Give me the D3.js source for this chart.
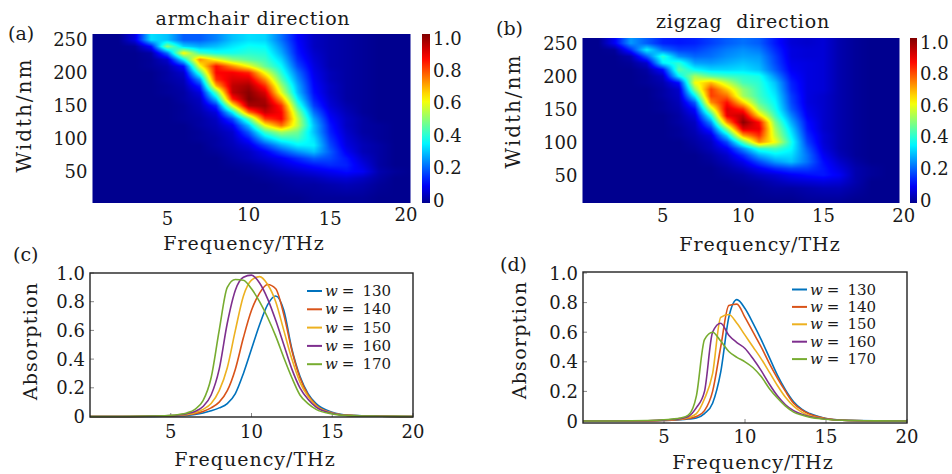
<!DOCTYPE html>
<html>
<head>
<meta charset="utf-8">
<script src="https://cdn.jsdelivr.net/npm/d3@7"></script>
<style>
body { margin: 0; background: #fff; }
text { font-family: "DejaVu Serif", serif; fill: #1a1a1a; }
</style>
</head>
<body>
<div id="chart"></div>
<script>
// heatmap grids: one row per width (nm), one column per frequency (THz)
var freqCols = [0,1,2,3,4,5,6,7,8,9,10,11,12,13,14,15,16,17,18,19,20];
var widthRows = [250,240,230,220,210,200,190,180,170,160,150,140,130,120,110,100,90,80,70,60,50,40,30,10];

var armchairMap = [
  [0,0,0,0.08,0.33,0.3,0.2,0.2,0.24,0.3,0.33,0.32,0.22,0.11,0.05,0.03,0.02,0.01,0,0,0],
  [0,0,0,0.01,0.12,0.5,0.32,0.28,0.3,0.34,0.37,0.36,0.25,0.12,0.05,0.03,0.02,0.01,0,0,0],
  [0,0,0,0,0.02,0.22,0.62,0.42,0.38,0.38,0.4,0.39,0.28,0.13,0.06,0.03,0.02,0.01,0,0,0],
  [0,0,0,0,0.01,0.06,0.35,0.72,0.6,0.5,0.45,0.42,0.32,0.15,0.07,0.03,0.02,0.01,0,0,0],
  [0,0,0,0,0.01,0.03,0.12,0.6,0.85,0.72,0.6,0.46,0.36,0.18,0.08,0.03,0.02,0.01,0,0,0],
  [0,0,0,0,0,0.02,0.06,0.42,0.86,0.87,0.83,0.6,0.4,0.22,0.09,0.04,0.02,0.01,0,0,0],
  [0,0,0,0,0,0.02,0.04,0.25,0.82,0.9,0.9,0.72,0.45,0.25,0.1,0.04,0.02,0.01,0,0,0],
  [0,0,0,0,0,0.01,0.03,0.14,0.68,0.93,0.96,0.82,0.52,0.28,0.11,0.05,0.02,0.01,0,0,0],
  [0,0,0,0,0,0.01,0.02,0.08,0.45,0.93,0.99,0.9,0.58,0.3,0.12,0.05,0.02,0.01,0,0,0],
  [0,0,0,0,0,0,0.02,0.05,0.3,0.83,1.0,0.95,0.7,0.35,0.14,0.06,0.02,0.01,0,0,0],
  [0,0,0,0,0,0,0.01,0.04,0.15,0.6,0.95,0.97,0.82,0.42,0.17,0.07,0.03,0.01,0,0,0],
  [0,0,0,0,0,0,0.01,0.03,0.08,0.35,0.75,0.92,0.86,0.5,0.22,0.09,0.04,0.01,0,0,0],
  [0,0,0,0,0,0,0.01,0.02,0.05,0.18,0.45,0.8,0.86,0.55,0.27,0.11,0.05,0.02,0,0,0],
  [0,0,0,0,0,0,0,0.02,0.04,0.1,0.3,0.6,0.75,0.55,0.3,0.13,0.05,0.02,0.01,0,0],
  [0,0,0,0,0,0,0,0.01,0.03,0.06,0.2,0.42,0.52,0.47,0.3,0.14,0.06,0.02,0.01,0,0],
  [0,0,0,0,0,0,0,0.01,0.02,0.05,0.13,0.3,0.4,0.42,0.33,0.16,0.07,0.03,0.01,0,0],
  [0,0,0,0,0,0,0,0,0.02,0.04,0.08,0.18,0.28,0.35,0.35,0.18,0.08,0.04,0.02,0,0],
  [0,0,0,0,0,0,0,0,0.01,0.03,0.05,0.1,0.18,0.25,0.3,0.2,0.1,0.04,0.02,0,0],
  [0,0,0,0,0,0,0,0,0,0.02,0.04,0.07,0.1,0.15,0.2,0.18,0.13,0.06,0.02,0,0],
  [0,0,0,0,0,0,0,0,0,0.01,0.02,0.04,0.07,0.1,0.13,0.15,0.14,0.08,0.02,0,0],
  [0,0,0,0,0,0,0,0,0,0,0.01,0.02,0.04,0.06,0.08,0.1,0.12,0.1,0.03,0.01,0],
  [0,0,0,0,0,0,0,0,0,0,0,0.01,0.02,0.03,0.04,0.06,0.07,0.05,0.02,0,0],
  [0,0,0,0,0,0,0,0,0,0,0,0,0.01,0.02,0.02,0.03,0.04,0.03,0.01,0,0],
  [0,0,0,0,0,0,0,0,0,0,0,0,0,0,0.01,0.01,0.01,0.01,0,0,0]
];

var zigzagMap = [
  [0,0,0.1,0.26,0.2,0.14,0.13,0.14,0.17,0.2,0.22,0.2,0.13,0.07,0.06,0.07,0.03,0.01,0,0,0],
  [0,0,0.01,0.15,0.35,0.22,0.17,0.17,0.2,0.23,0.25,0.23,0.15,0.08,0.07,0.07,0.03,0.01,0,0,0],
  [0,0,0,0.03,0.2,0.4,0.25,0.21,0.22,0.25,0.27,0.26,0.17,0.08,0.07,0.07,0.03,0.01,0,0,0],
  [0,0,0,0.01,0.06,0.35,0.4,0.27,0.26,0.28,0.3,0.28,0.18,0.09,0.08,0.07,0.03,0.01,0,0,0],
  [0,0,0,0,0.02,0.12,0.45,0.36,0.32,0.32,0.33,0.3,0.2,0.1,0.08,0.07,0.03,0.01,0,0,0],
  [0,0,0,0,0.01,0.05,0.35,0.52,0.45,0.42,0.4,0.38,0.25,0.12,0.08,0.07,0.03,0.01,0,0,0],
  [0,0,0,0,0.01,0.03,0.12,0.6,0.68,0.55,0.43,0.4,0.3,0.14,0.08,0.07,0.03,0.01,0,0,0],
  [0,0,0,0,0,0.02,0.06,0.5,0.8,0.66,0.5,0.41,0.32,0.15,0.08,0.07,0.03,0.01,0,0,0],
  [0,0,0,0,0,0.02,0.05,0.35,0.8,0.75,0.52,0.42,0.34,0.17,0.08,0.06,0.03,0.01,0,0,0],
  [0,0,0,0,0,0.01,0.04,0.2,0.72,0.85,0.65,0.45,0.36,0.18,0.08,0.06,0.03,0.01,0,0,0],
  [0,0,0,0,0,0.01,0.03,0.12,0.55,0.9,0.82,0.52,0.38,0.2,0.09,0.06,0.03,0.01,0,0,0],
  [0,0,0,0,0,0,0.02,0.08,0.38,0.88,0.93,0.65,0.42,0.24,0.1,0.06,0.03,0.01,0,0,0],
  [0,0,0,0,0,0,0.02,0.05,0.25,0.72,0.99,0.85,0.48,0.28,0.12,0.06,0.03,0.01,0,0,0],
  [0,0,0,0,0,0,0.01,0.04,0.15,0.5,0.9,0.88,0.52,0.32,0.13,0.06,0.03,0.01,0,0,0],
  [0,0,0,0,0,0,0.01,0.03,0.08,0.32,0.7,0.82,0.55,0.35,0.15,0.07,0.03,0.01,0,0,0],
  [0,0,0,0,0,0,0,0.02,0.05,0.18,0.45,0.72,0.6,0.38,0.17,0.07,0.03,0.01,0,0,0],
  [0,0,0,0,0,0,0,0.01,0.04,0.1,0.25,0.4,0.42,0.36,0.2,0.08,0.03,0.01,0,0,0],
  [0,0,0,0,0,0,0,0,0.02,0.06,0.15,0.28,0.34,0.33,0.22,0.1,0.04,0.01,0,0,0],
  [0,0,0,0,0,0,0,0,0.01,0.04,0.09,0.18,0.26,0.3,0.22,0.12,0.06,0.02,0,0,0],
  [0,0,0,0,0,0,0,0,0,0.02,0.05,0.1,0.15,0.18,0.17,0.13,0.08,0.03,0.01,0,0],
  [0,0,0,0,0,0,0,0,0,0.01,0.02,0.05,0.07,0.1,0.12,0.13,0.1,0.03,0.01,0,0],
  [0,0,0,0,0,0,0,0,0,0,0.01,0.02,0.04,0.06,0.07,0.08,0.07,0.03,0,0,0],
  [0,0,0,0,0,0,0,0,0,0,0,0.01,0.02,0.02,0.03,0.04,0.04,0.02,0,0,0],
  [0,0,0,0,0,0,0,0,0,0,0,0,0,0,0.01,0.01,0.01,0,0,0,0]
];

// absorption spectra for the line panels
var lineFreq = [0,2,4,5,5.5,6,6.5,7,7.5,8,8.5,9,9.5,10,10.5,11,11.5,12,12.5,13,13.5,14,15,16,18,20];
var curveWidths = [130,140,150,160,170];
var seriesColors = ["#0072bd","#d95319","#edb120","#7e2f8e","#77ac30"];

var armchairCurves = [
  [0,0,0.001,0.003,0.005,0.008,0.014,0.024,0.04,0.06,0.09,0.16,0.3,0.47,0.64,0.78,0.84,0.74,0.47,0.28,0.16,0.09,0.03,0.01,0.002,0],
  [0,0,0.002,0.004,0.007,0.012,0.02,0.035,0.06,0.1,0.18,0.33,0.55,0.74,0.86,0.92,0.89,0.71,0.46,0.27,0.15,0.08,0.025,0.008,0.002,0],
  [0,0,0.002,0.005,0.009,0.015,0.027,0.05,0.09,0.18,0.34,0.6,0.84,0.95,0.975,0.92,0.8,0.6,0.4,0.24,0.14,0.075,0.024,0.008,0.002,0],
  [0,0,0.003,0.006,0.011,0.02,0.035,0.07,0.15,0.33,0.65,0.88,0.97,0.985,0.93,0.82,0.67,0.5,0.33,0.2,0.12,0.065,0.022,0.007,0.002,0],
  [0,0,0.003,0.008,0.014,0.025,0.05,0.11,0.27,0.6,0.9,0.955,0.95,0.89,0.8,0.69,0.56,0.41,0.27,0.15,0.09,0.05,0.018,0.006,0.002,0]
];

var zigzagCurves = [
  [0,0,0.001,0.003,0.005,0.008,0.013,0.02,0.05,0.12,0.33,0.7,0.82,0.76,0.66,0.55,0.43,0.31,0.21,0.13,0.08,0.05,0.017,0.006,0.001,0],
  [0,0,0.001,0.004,0.006,0.01,0.017,0.03,0.07,0.2,0.5,0.78,0.79,0.7,0.6,0.5,0.39,0.29,0.2,0.12,0.075,0.045,0.016,0.005,0.001,0],
  [0,0,0.002,0.005,0.008,0.013,0.023,0.05,0.15,0.32,0.7,0.72,0.66,0.58,0.5,0.42,0.33,0.24,0.16,0.1,0.06,0.035,0.014,0.005,0.001,0],
  [0,0,0.002,0.006,0.01,0.016,0.03,0.09,0.2,0.6,0.66,0.58,0.53,0.49,0.42,0.34,0.25,0.17,0.11,0.07,0.045,0.03,0.013,0.005,0.001,0],
  [0,0,0.003,0.008,0.013,0.02,0.04,0.17,0.55,0.6,0.54,0.47,0.43,0.4,0.36,0.3,0.22,0.155,0.1,0.06,0.04,0.025,0.012,0.005,0.001,0]
];

var freqTicks = [5,10,15,20];
var widthTicks = [50,100,150,200,250];
var absTicks = [0,0.2,0.4,0.6,0.8,1.0];
var barTicks = [0,0.2,0.4,0.6,0.8,1.0];

var fmt = function(v) { return v === 0 ? "0" : d3.format(".1f")(v); };

var jet = d3.scaleLinear()
    .domain([0, 0.11, 0.36, 0.61, 0.86, 1])
    .range(["#00008f", "#0000ff", "#00ffff", "#ffff00", "#ff0000", "#800000"])
    .clamp(true);

var svg = d3.select("#chart").append("svg")
    .attr("width", 952)
    .attr("height", 474);

var defs = svg.append("defs");
var grad = defs.append("linearGradient").attr("id", "jetbar")
    .attr("x1", 0).attr("y1", 1).attr("x2", 0).attr("y2", 0);
d3.range(0, 1.0001, 0.05).forEach(function(t) {
  grad.append("stop").attr("offset", t).attr("stop-color", jet(t));
});

var rowsAsc = widthRows.slice().reverse();

function sample(gridAsc, f, w) {
  var ci = Math.max(0, Math.min(freqCols.length - 2, d3.bisectRight(freqCols, f) - 1));
  var tc = Math.max(0, Math.min(1, (f - freqCols[ci]) / (freqCols[ci + 1] - freqCols[ci])));
  var ri = Math.max(0, Math.min(rowsAsc.length - 2, d3.bisectRight(rowsAsc, w) - 1));
  var tr = Math.max(0, Math.min(1, (w - rowsAsc[ri]) / (rowsAsc[ri + 1] - rowsAsc[ri])));
  var a = gridAsc[ri][ci] * (1 - tc) + gridAsc[ri][ci + 1] * tc;
  var b = gridAsc[ri + 1][ci] * (1 - tc) + gridAsc[ri + 1][ci + 1] * tc;
  return a * (1 - tr) + b * tr;
}

function heatmap(o) {
  var x = d3.scaleLinear().domain(o.fd).range([o.left, o.right]);
  var y = d3.scaleLinear().domain(o.wd).range([o.bottom, o.top]);
  var gridAsc = o.grid.slice().reverse();

  var W = Math.round(o.right - o.left), H = Math.round(o.bottom - o.top);
  var canvas = document.createElement("canvas");
  canvas.width = W; canvas.height = H;
  var ctx = canvas.getContext("2d");
  var img = ctx.createImageData(W, H);
  for (var j = 0; j < H; j++) {
    var w = y.invert(o.top + j + 0.5);
    for (var i = 0; i < W; i++) {
      var f = x.invert(o.left + i + 0.5);
      var c = d3.rgb(jet(sample(gridAsc, f, w)));
      var k = (j * W + i) * 4;
      img.data[k] = c.r; img.data[k + 1] = c.g; img.data[k + 2] = c.b; img.data[k + 3] = 255;
    }
  }
  ctx.putImageData(img, 0, 0);
  svg.append("image")
      .attr("href", canvas.toDataURL())
      .attr("x", o.left).attr("y", o.top)
      .attr("width", W).attr("height", H)
      .attr("preserveAspectRatio", "none");

  // colorbar
  var cb = d3.scaleLinear().domain([0, 1]).range([o.bottom - 3, o.top + 4]);
  svg.append("rect")
      .attr("x", o.cbX).attr("y", o.top)
      .attr("width", o.cbW).attr("height", o.bottom - o.top)
      .attr("fill", "url(#jetbar)");
  svg.selectAll(null).data(barTicks).enter().append("text")
      .attr("x", o.cbX + o.cbW + 3)
      .attr("y", function(d) { return cb(d) + 6.5; })
      .attr("font-size", 18)
      .text(fmt);

  // axes labels
  svg.selectAll(null).data(widthTicks).enter().append("text")
      .attr("x", o.left - 5)
      .attr("y", function(d) { return y(d) + 6.5; })
      .attr("text-anchor", "end")
      .attr("font-size", 18)
      .text(function(d) { return d; });

  svg.selectAll(null).data(freqTicks).enter().append("text")
      .attr("x", function(d) { return Math.min(x(d), o.right + o.lastMax); })
      .attr("y", function(d, i) { return o.tickY + (i % 2 ? -o.stagger : 0); })
      .attr("text-anchor", "middle")
      .attr("font-size", 18)
      .text(function(d) { return d; });

  svg.append("text")
      .attr("x", o.xtX).attr("y", o.xtY)
      .attr("text-anchor", "middle")
      .attr("font-size", 19).attr("letter-spacing", 1)
      .text("Frequency/THz");

  svg.append("text")
      .attr("transform", "translate(" + o.ytX + "," + o.ytY + ") rotate(-90)")
      .attr("text-anchor", "middle")
      .attr("font-size", 20).attr("letter-spacing", 2)
      .text("Width/nm");

  svg.append("text")
      .attr("x", o.titleX).attr("y", o.titleY)
      .attr("text-anchor", "middle")
      .attr("font-size", 19).attr("letter-spacing", 0.8)
      .style("white-space", "pre")
      .text(o.title);

  svg.append("text")
      .attr("x", o.tagX).attr("y", o.tagY)
      .attr("font-size", 19)
      .text(o.tag);
}

function linePanel(o) {
  var x = d3.scaleLinear().domain([0, 20]).range([o.left, o.right]);
  var y = d3.scaleLinear().domain([0, 1]).range([o.y0, o.y1]);

  // ticks inside the frame
  svg.selectAll(null).data(freqTicks).enter().append("line")
      .attr("x1", function(d) { return x(d); }).attr("x2", function(d) { return x(d); })
      .attr("y1", o.bottom).attr("y2", o.bottom - 4)
      .attr("stroke", "#888");
  svg.selectAll(null).data(absTicks).enter().append("line")
      .attr("x1", o.left).attr("x2", o.left + 4)
      .attr("y1", function(d) { return y(d); }).attr("y2", function(d) { return y(d); })
      .attr("stroke", "#888");

  var line = d3.line()
      .x(function(d, i) { return x(lineFreq[i]); })
      .y(function(d) { return y(d); })
      .curve(d3.curveMonotoneX);

  svg.selectAll(null).data(o.curves).enter().append("path")
      .attr("d", line)
      .attr("fill", "none")
      .attr("stroke", function(d, i) { return seriesColors[i]; })
      .attr("stroke-width", 1.6);

  svg.append("rect")
      .attr("x", o.left).attr("y", o.top)
      .attr("width", o.right - o.left).attr("height", o.bottom - o.top)
      .attr("fill", "none").attr("stroke", "#222").attr("stroke-width", 1.4);

  svg.selectAll(null).data(freqTicks).enter().append("text")
      .attr("x", function(d) { return x(d); })
      .attr("y", o.tickY)
      .attr("text-anchor", "middle")
      .attr("font-size", 18)
      .text(function(d) { return d; });

  svg.selectAll(null).data(absTicks).enter().append("text")
      .attr("x", o.left - 5)
      .attr("y", function(d) { return y(d) + 6.5; })
      .attr("text-anchor", "end")
      .attr("font-size", 18)
      .text(fmt);

  svg.append("text")
      .attr("x", o.xtX).attr("y", o.xtY)
      .attr("text-anchor", "middle")
      .attr("font-size", 19).attr("letter-spacing", 1)
      .text("Frequency/THz");

  svg.append("text")
      .attr("transform", "translate(" + o.ytX + "," + o.ytY + ") rotate(-90)")
      .attr("text-anchor", "middle")
      .attr("font-size", 19).attr("letter-spacing", 1.3)
      .text("Absorption");

  svg.append("text")
      .attr("x", o.tagX).attr("y", o.tagY)
      .attr("font-size", 19)
      .text(o.tag);

  // legend
  var lg = svg.selectAll(null).data(curveWidths).enter().append("g")
      .attr("transform", function(d, i) { return "translate(" + o.lgX + "," + (o.lgY + i * o.lgStep) + ")"; });
  lg.append("line")
      .attr("x1", 0).attr("x2", 15)
      .attr("stroke", function(d, i) { return seriesColors[i]; })
      .attr("stroke-width", 2);
  var lt = lg.append("text").attr("x", 18).attr("y", 5).attr("font-size", 15);
  lt.append("tspan").attr("font-style", "italic").text("w");
  lt.append("tspan").attr("dx", 4).text("=");
  lt.append("tspan").attr("dx", 8).text(function(d) { return d; });
}

heatmap({
  grid: armchairMap, fd: [0.4, 19.9], wd: [2.4, 259],
  left: 92.5, right: 410, top: 34, bottom: 203,
  cbX: 422, cbW: 8,
  tickY: 225, stagger: 4, lastMax: -4,
  xtX: 244, xtY: 250, ytX: 31, ytY: 115,
  title: "armchair direction", titleX: 253, titleY: 25,
  tag: "(a)", tagX: 8, tagY: 40
});

heatmap({
  grid: zigzagMap, fd: [0, 19.72], wd: [7.6, 258],
  left: 582.5, right: 899.3, top: 38, bottom: 203,
  cbX: 910, cbW: 7,
  tickY: 222, stagger: 0, lastMax: 10,
  xtX: 760, xtY: 251, ytX: 520, ytY: 111,
  title: "zigzag  direction", titleX: 743, titleY: 28,
  tag: "(b)", tagX: 496, tagY: 35
});

linePanel({
  curves: armchairCurves,
  left: 90, right: 413, top: 273, bottom: 417, y0: 416.5, y1: 273,
  tickY: 438, xtX: 255, xtY: 466, ytX: 37, ytY: 341,
  tag: "(c)", tagX: 13, tagY: 261,
  lgX: 307, lgY: 291, lgStep: 18.3
});

linePanel({
  curves: zigzagCurves,
  left: 583, right: 907, top: 272, bottom: 423, y0: 421, y1: 273,
  tickY: 443, xtX: 753, xtY: 469, ytX: 526, ytY: 340,
  tag: "(d)", tagX: 500, tagY: 271,
  lgX: 792, lgY: 289.5, lgStep: 17.4
});
</script>
</body>
</html>
